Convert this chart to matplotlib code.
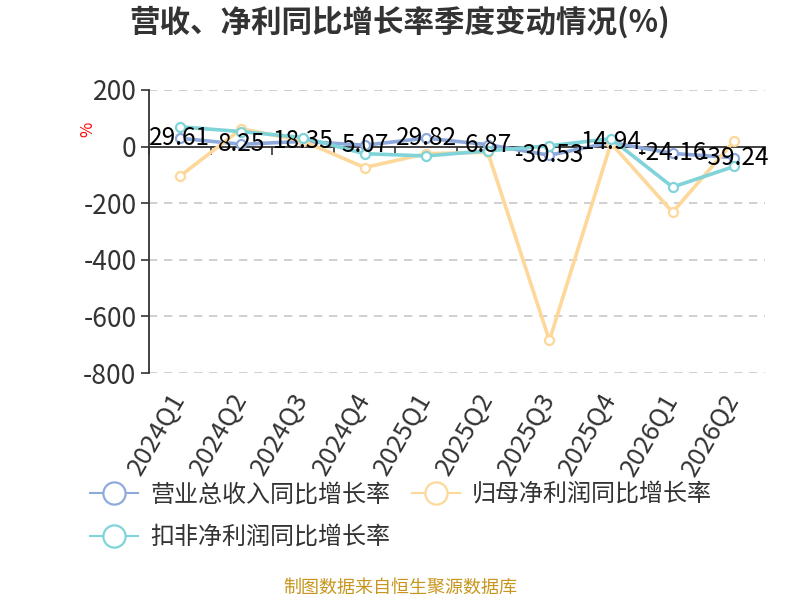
import matplotlib
matplotlib.use("Agg")
import matplotlib.pyplot as plt
from matplotlib.lines import Line2D
import numpy as np

plt.rcParams['font.family'] = ['Noto Sans CJK SC', 'DejaVu Sans']
plt.rcParams['axes.unicode_minus'] = False

quarters = ["2024Q1", "2024Q2", "2024Q3", "2024Q4", "2025Q1", "2025Q2",
            "2025Q3", "2025Q4", "2026Q1", "2026Q2"]
revenue_yoy = [29.61, 8.25, 18.35, 5.07, 29.82, 6.87, -30.53, 14.94, -24.16, -39.24]
netprofit_yoy = [-105, 63, 20, -74, -25, -20, -685, 12, -232, 20]
deducted_yoy = [70, 53, 32, -25, -33, -15, 3, 28, -143, -70]

series_names = ["营业总收入同比增长率", "归母净利润同比增长率", "扣非净利润同比增长率"]
colors = ["#8eaadc", "#fdd89a", "#80d4d9"]
yticks = [200, 0, -200, -400, -600, -800]

fig = plt.figure(figsize=(8, 6), dpi=100)
ax = fig.add_axes([0.18625, 0.3783, 0.77, 0.4717])

x = np.arange(len(quarters))
for vals, c in zip([revenue_yoy, netprofit_yoy, deducted_yoy], colors):
    ax.plot(x, vals, color=c, lw=2.6, marker='o', markersize=6.5,
            markerfacecolor='white', markeredgecolor=c, markeredgewidth=1.6,
            zorder=3, solid_joinstyle='round')

for xi, v in zip(x, revenue_yoy):
    ax.text(xi, v, f"{v:.2f}", ha='center', va='center', fontsize=17.5,
            color='black', zorder=5)

ax.set_xlim(-0.5, len(quarters) - 0.5)
ax.set_ylim(-800, 200)
ax.set_yticks(yticks)
ax.set_yticklabels([str(t) for t in yticks], fontsize=19, color='#333333')
ax.tick_params(axis='y', length=6, width=1.2, color='#333333', pad=3)

for t in yticks:
    if t != 0:
        ax.axhline(t, color='#c8c8c8', lw=1.2, ls=(0, (5, 4)), zorder=1)

for s in ['top', 'right']:
    ax.spines[s].set_visible(False)
ax.spines['left'].set_color('#333333')
ax.spines['left'].set_linewidth(1.3)
ax.spines['bottom'].set_position(('data', 0))
ax.spines['bottom'].set_color('#333333')
ax.spines['bottom'].set_linewidth(1.3)
ax.spines['bottom'].set_zorder(2)

ax.set_xticks(x)
ax.set_xticklabels([])
ax.tick_params(axis='x', which='major', length=0)
ax.set_xticks(np.arange(len(quarters) + 1) - 0.5, minor=True)
ax.tick_params(axis='x', which='minor', length=6, width=1.2, color='#333333', direction='out')

sec = ax.secondary_xaxis(0.0)
sec.set_xticks(x)
sec.set_xticklabels(quarters, rotation=60, fontsize=18.5, color='#333333',
                    ha='right', va='center', rotation_mode='anchor')
sec.tick_params(axis='x', length=0, pad=16)
sec.spines['bottom'].set_visible(False)

ax.text(-0.1, 0.86, "%", transform=ax.transAxes, rotation=90, color='red',
        fontsize=12, ha='center', va='center')

fig.text(0.5, 0.962, "营收、净利同比增长率季度变动情况(%)", ha='center', va='center',
         fontsize=22, fontweight='bold', color='#333333')

handles = [Line2D([0], [0], color=c, lw=1.5, marker='o', markersize=16,
                  markerfacecolor='white', markeredgecolor=c, markeredgewidth=1.6)
           for c in colors]
order = [0, 2, 1]
fig.legend([handles[i] for i in order], [series_names[i] for i in order],
           ncol=2, loc='upper left',
           bbox_to_anchor=(0.1125, 0.197), frameon=False, fontsize=17.3,
           handlelength=2.0, handletextpad=0.5, columnspacing=0.9,
           labelspacing=0.68, borderaxespad=0, borderpad=0,
           labelcolor='#333333')

fig.text(0.5, 0.02, "制图数据来自恒生聚源数据库", ha='center', va='center',
         fontsize=13, color='#c8961e')

fig.savefig("out.png", dpi=100)
